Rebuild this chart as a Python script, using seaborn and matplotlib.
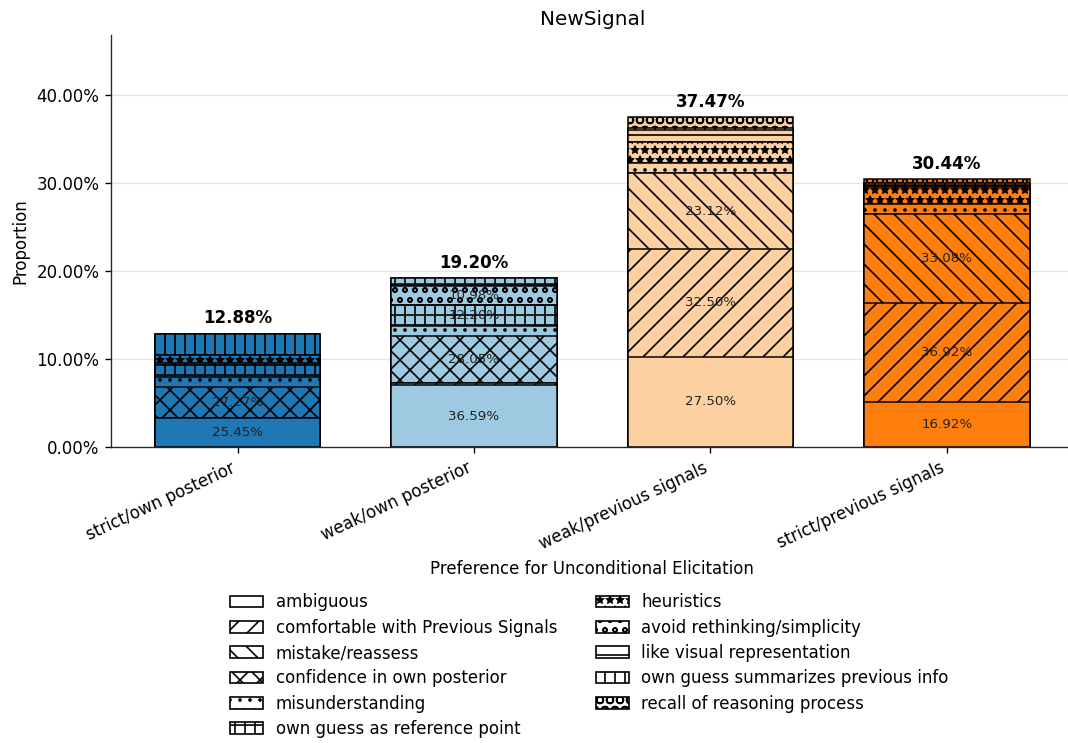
import matplotlib
matplotlib.use("Agg")
import matplotlib.pyplot as plt
from matplotlib.patches import Patch
from matplotlib.ticker import PercentFormatter
import pandas as pd
import seaborn as sns

# Preference groups (x axis) and their bar colours
preferences = ['strict/own posterior', 'weak/own posterior',
               'weak/previous signals', 'strict/previous signals']
bar_colors = ['#1f77b4', '#9ecae1', '#fdd0a2', '#ff7f0e']

# Stated reasons, stacked bottom -> top, with their hatch patterns
reasons = [
    'ambiguous', 'comfortable with Previous Signals', 'mistake/reassess',
    'confidence in own posterior', 'misunderstanding', 'own guess as reference point',
    'heuristics', 'avoid rethinking/simplicity', 'like visual representation',
    'own guess summarizes previous info', 'recall of reasoning process',
]
hatches = ['', '//', '\\\\', 'xx', '..', '++', '**', 'oo', '--', '||', 'OO']

# Number of responses per reason (same order as `reasons`)
strict_own = [14, 0, 0, 15, 5, 7, 4, 0, 0, 10, 0]
weak_own = [30, 1, 0, 23, 5, 10, 0, 9, 1, 3, 0]
weak_prev = [44, 52, 37, 0, 5, 0, 10, 0, 6, 1, 5]
strict_prev = [22, 48, 43, 0, 5, 0, 8, 0, 1, 1, 2]

# Segments that carry a within-bar percentage label
labelled = [
    ['ambiguous', 'confidence in own posterior'],
    ['ambiguous', 'confidence in own posterior', 'own guess as reference point',
     'avoid rethinking/simplicity'],
    ['ambiguous', 'comfortable with Previous Signals', 'mistake/reassess'],
    ['ambiguous', 'comfortable with Previous Signals', 'mistake/reassess'],
]

counts = pd.DataFrame({
    preferences[0]: strict_own,
    preferences[1]: weak_own,
    preferences[2]: weak_prev,
    preferences[3]: strict_prev,
}, index=reasons)

total = counts.values.sum()
share = counts / total * 100          # share of all responses, in %
cum = share.cumsum(axis=0)
bar_totals = counts.sum(axis=0)
bar_share = share.sum(axis=0)

sns.set_style("ticks")
plt.rcParams.update({'text.color': 'black', 'axes.labelcolor': 'black',
                     'xtick.color': 'black', 'ytick.color': 'black'})

fig = plt.figure(figsize=(8.9, 743 / 120), dpi=120)
ax = fig.add_axes([0.104, 0.398, 0.901, 0.555])

# Stacked bars: draw cumulative heights from the top reason down,
# so each lower layer covers the part of the previous one below it
for i in reversed(range(len(reasons))):
    layer = pd.DataFrame({'pref': preferences, 'height': cum.iloc[i].values})
    sns.barplot(data=layer, x='pref', y='height', hue='pref',
                order=preferences, hue_order=preferences, palette=bar_colors,
                saturation=1, width=0.7, edgecolor='black', linewidth=0.9,
                hatch=hatches[i], errorbar=None, legend=False, ax=ax)

# Percentages inside segments
for j, pref in enumerate(preferences):
    for i, reason in enumerate(reasons):
        if reason not in labelled[j]:
            continue
        y = cum.iloc[i][pref] - share.iloc[i][pref] / 2
        pct = counts.iloc[i][pref] / bar_totals[pref] * 100
        ax.text(j, y, f'{pct:.2f}%', ha='center', va='center',
                fontsize=8, color='#222222')
    # bar totals on top
    ax.annotate(f'{bar_share[pref]:.2f}%', (j, bar_share[pref]),
                xytext=(0, 4), textcoords='offset points',
                ha='center', va='bottom', fontsize=10, fontweight='bold')

ax.set_xlim(-0.535, 3.535)
ax.set_ylim(0, bar_share.max() * 1.25)
ax.set_yticks([0, 10, 20, 30, 40])
ax.yaxis.set_major_formatter(PercentFormatter(100, decimals=2))
ax.yaxis.grid(True, color='#e5e5e5', linewidth=0.8)
ax.set_axisbelow(True)
sns.despine(ax=ax)

ax.set_title('NewSignal', fontsize=12)
ax.set_xlabel('Preference for Unconditional Elicitation', fontsize=10)
ax.set_ylabel('Proportion', fontsize=10)
plt.setp(ax.get_xticklabels(), rotation=25, ha='right', fontsize=10)
plt.setp(ax.get_yticklabels(), fontsize=10)

handles = [Patch(facecolor='white', edgecolor='black', hatch=h, label=r)
           for r, h in zip(reasons, hatches)]
ax.legend(handles=handles, loc='upper center', bbox_to_anchor=(0.497, -0.318),
          ncol=2, frameon=False, fontsize=10, labelspacing=0.44,
          handletextpad=0.75, columnspacing=2.3)

fig.savefig('out.png', dpi=120)
